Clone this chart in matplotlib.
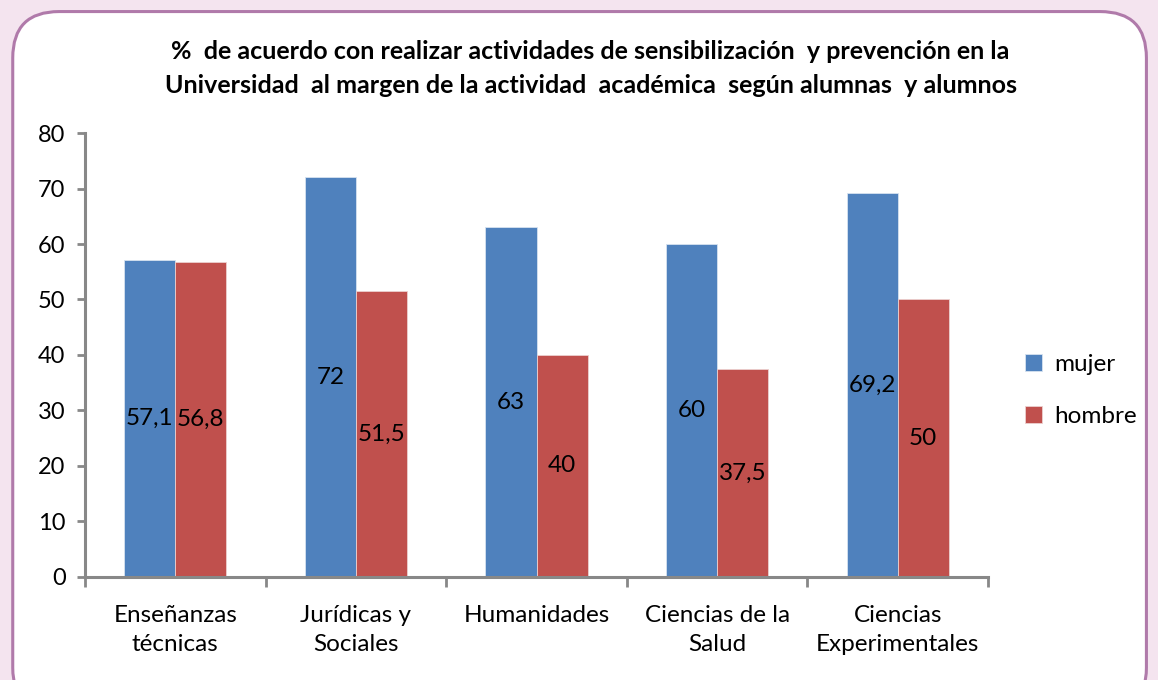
import matplotlib.pyplot as plt
import numpy as np
from matplotlib.patches import FancyBboxPatch

plt.rcParams['font.family'] = ['Lato', 'DejaVu Sans']

categories = ["Enseñanzas\ntécnicas", "Jurídicas y\nSociales", "Humanidades",
              "Ciencias de la\nSalud", "Ciencias\nExperimentales"]
mujer = [57.1, 72, 63, 60, 69.2]
hombre = [56.8, 51.5, 40, 37.5, 50]
mujer_labels = ["57,1", "72", "63", "60", "69,2"]
hombre_labels = ["56,8", "51,5", "40", "37,5", "50"]

blue = "#4F81BD"
red = "#C0504D"

fig = plt.figure(figsize=(11.58, 6.8), dpi=100)
fig.patch.set_facecolor("#f4e4ef")

# white rounded panel with purple border, kept behind the axes
panel = FancyBboxPatch((0.011, -0.05), 0.979, 1.033,
                       boxstyle="round,pad=0,rounding_size=0.04",
                       transform=fig.transFigure, facecolor="white",
                       edgecolor="#b07aaa", linewidth=2.2,
                       mutation_aspect=1158 / 680, zorder=-10)
fig.patches.append(panel)

ax = fig.add_axes([0.0734, 0.1515, 0.7798, 0.6529])
ax.set_facecolor("none")
ax.set_zorder(5)

x = np.arange(len(categories))
w = 0.283
b1 = ax.bar(x - w / 2, mujer, w, color=blue, edgecolor="#d6e2f0", linewidth=0.6, label="mujer")
b2 = ax.bar(x + w / 2, hombre, w, color=red, edgecolor="#ecd0cf", linewidth=0.6, label="hombre")

for rect, txt in zip(b1, mujer_labels):
    ax.text(rect.get_x() + rect.get_width() / 2, rect.get_height() / 2, txt,
            ha="center", va="center", fontsize=17.5, color="black")
for rect, txt in zip(b2, hombre_labels):
    ax.text(rect.get_x() + rect.get_width() / 2, rect.get_height() / 2, txt,
            ha="center", va="center", fontsize=17.5, color="black")

ax.set_xlim(-0.5, len(categories) - 0.5)
ax.set_ylim(0, 80)
ax.set_yticks(range(0, 81, 10))
ax.tick_params(axis="y", labelsize=17, length=6, width=2, color="#888888", pad=8)

ax.set_xticks(x)
ax.set_xticklabels(categories, fontsize=17.5, linespacing=1.5)
ax.tick_params(axis="x", length=0, pad=20)
ax.set_xticks(np.arange(-0.5, len(categories), 1), minor=True)
ax.tick_params(axis="x", which="minor", length=7, width=2, color="#888888")

for s in ["top", "right"]:
    ax.spines[s].set_visible(False)
for s in ["left", "bottom"]:
    ax.spines[s].set_color("#888888")
    ax.spines[s].set_linewidth(2.2)

fig.text(0.51, 0.899,
         "%  de acuerdo con realizar actividades de sensibilización  y prevención en la\n"
         "Universidad  al margen de la actividad  académica  según alumnas  y alumnos",
         ha="center", va="center", fontsize=18, fontweight="bold", linespacing=1.6)

fig.legend(handles=[b1, b2], labels=["mujer", "hombre"], loc="center left",
           bbox_to_anchor=(0.866, 0.426), frameon=False, fontsize=17.5,
           handlelength=0.7, handleheight=0.7, labelspacing=1.25, handletextpad=0.5)

fig.savefig("out.png", dpi=100, facecolor=fig.get_facecolor())
